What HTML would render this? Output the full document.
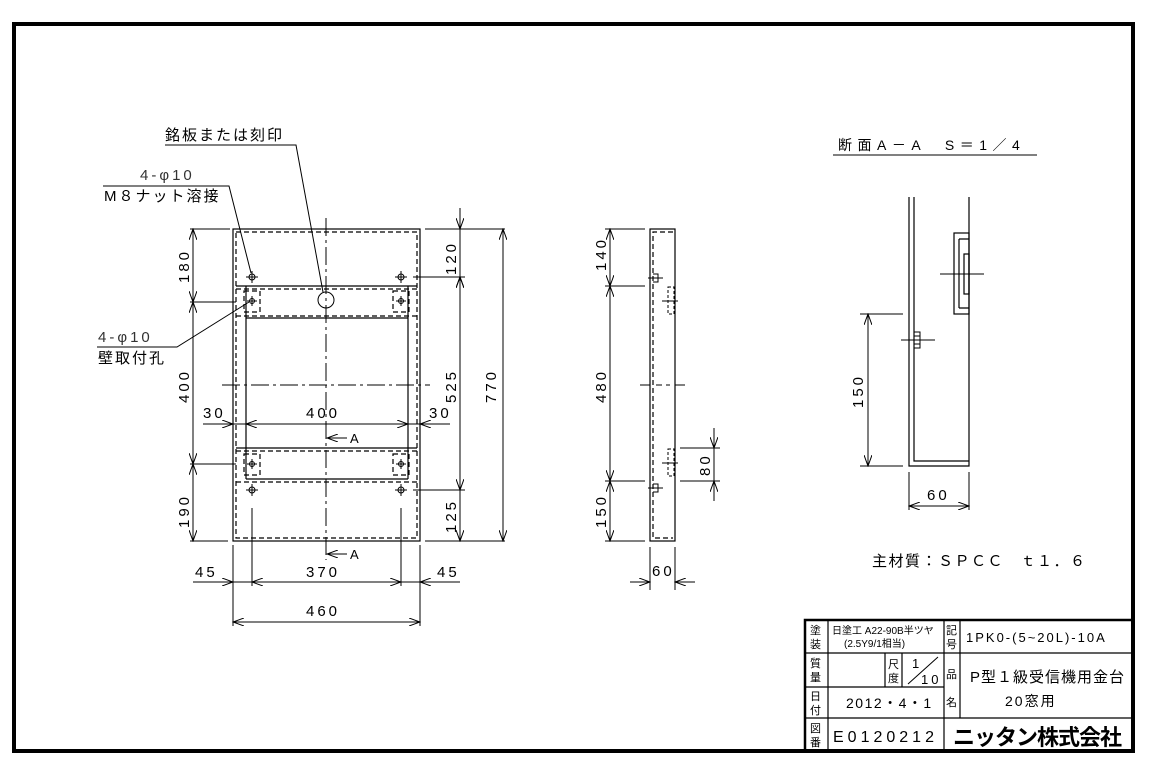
<!DOCTYPE html>
<html><head><meta charset="utf-8"><style>
html,body{margin:0;padding:0;background:#fff;}
svg{display:block;}
text{font-family:"Liberation Sans","Noto Sans CJK JP",sans-serif;fill:#000;}
.d{font-size:15px;letter-spacing:3px;fill:#333;}
.j{font-size:15px;letter-spacing:2px;}
</style></head><body>
<svg width="1151" height="773" viewBox="0 0 1151 773" xmlns="http://www.w3.org/2000/svg">
<defs>
<marker id="a" markerWidth="12" markerHeight="8" refX="11" refY="4" orient="auto" markerUnits="userSpaceOnUse"><path d="M0,0 L11,4 L0,8" fill="none" stroke="#000" stroke-width="1"/></marker>
</defs>
<rect width="1151" height="773" fill="#fff"/>
<rect x="14" y="24" width="1119" height="727" fill="none" stroke="#000" stroke-width="4"/>

<g stroke="#000" stroke-width="1.2" fill="none">
<rect x="233" y="229" width="187" height="312"/>
<g stroke-dasharray="5,3">
<rect x="236" y="232" width="181" height="306"/>
<line x1="236" y1="289" x2="417" y2="289"/>
<line x1="236" y1="316" x2="417" y2="316"/>
<line x1="236" y1="451" x2="417" y2="451"/>
<line x1="236" y1="482" x2="417" y2="482"/>
<rect x="244" y="291" width="16" height="21"/>
<rect x="393" y="291" width="16" height="21"/>
<rect x="244" y="454" width="16" height="21"/>
<rect x="393" y="454" width="16" height="21"/>
</g>
<line x1="236" y1="286" x2="417" y2="286"/>
<line x1="236" y1="448" x2="417" y2="448"/>
<line x1="246" y1="318" x2="408" y2="318"/>
<line x1="246" y1="479" x2="408" y2="479"/>
<line x1="246" y1="286" x2="246" y2="479"/>
<line x1="408" y1="286" x2="408" y2="479"/>
<line x1="326" y1="218" x2="326" y2="560" stroke-dasharray="18,4,3,4" stroke-width="1"/>
<line x1="222" y1="385" x2="430" y2="385" stroke-dasharray="18,4,3,4" stroke-width="1"/>
<g stroke-width="1">
<circle cx="252" cy="277" r="3"/><path d="M246 277h12M252 271v12"/>
<circle cx="401" cy="277" r="3"/><path d="M395 277h12M401 271v12"/>
<circle cx="252" cy="301" r="2.5"/><path d="M247 301h10M252 296v10"/>
<circle cx="401" cy="301" r="2.5"/><path d="M396 301h10M401 296v10"/>
<circle cx="252" cy="464" r="2.5"/><path d="M247 464h10M252 459v10"/>
<circle cx="401" cy="464" r="2.5"/><path d="M396 464h10M401 459v10"/>
<circle cx="252" cy="490" r="3"/><path d="M246 490h12M252 484v12"/>
<circle cx="401" cy="490" r="3"/><path d="M395 490h12M401 484v12"/>
<circle cx="326" cy="300" r="8"/>
</g>
<line x1="347" y1="438" x2="327" y2="438" marker-end="url(#a)" stroke-width="1"/>
<line x1="347" y1="554" x2="327" y2="554" marker-end="url(#a)" stroke-width="1"/>
<g stroke-width="1">
<line x1="190" y1="229" x2="230" y2="229"/>
<line x1="190" y1="302" x2="236" y2="302"/>
<line x1="190" y1="464" x2="236" y2="464"/>
<line x1="190" y1="541" x2="228" y2="541"/>
<line x1="193" y1="265" x2="193" y2="229" marker-end="url(#a)"/>
<line x1="193" y1="265" x2="193" y2="302" marker-end="url(#a)"/>
<line x1="193" y1="385" x2="193" y2="302" marker-end="url(#a)"/>
<line x1="193" y1="385" x2="193" y2="464" marker-end="url(#a)"/>
<line x1="193" y1="500" x2="193" y2="464" marker-end="url(#a)"/>
<line x1="193" y1="500" x2="193" y2="541" marker-end="url(#a)"/>
<line x1="425" y1="229" x2="505" y2="229"/>
<line x1="413" y1="277" x2="465" y2="277"/>
<line x1="413" y1="490" x2="465" y2="490"/>
<line x1="425" y1="541" x2="505" y2="541"/>
<line x1="460" y1="208" x2="460" y2="229" marker-end="url(#a)"/>
<line x1="460" y1="298" x2="460" y2="277" marker-end="url(#a)"/>
<line x1="460" y1="277" x2="460" y2="229"/>
<line x1="460" y1="385" x2="460" y2="277" marker-end="url(#a)"/>
<line x1="460" y1="385" x2="460" y2="490" marker-end="url(#a)"/>
<line x1="460" y1="520" x2="460" y2="541" marker-end="url(#a)"/>
<line x1="460" y1="490" x2="460" y2="520"/>
<line x1="503" y1="385" x2="503" y2="229" marker-end="url(#a)"/>
<line x1="503" y1="385" x2="503" y2="541" marker-end="url(#a)"/>
<line x1="203" y1="424" x2="233" y2="424" marker-end="url(#a)"/>
<line x1="326" y1="424" x2="246" y2="424" marker-end="url(#a)"/>
<line x1="326" y1="424" x2="408" y2="424" marker-end="url(#a)"/>
<line x1="450" y1="424" x2="420" y2="424" marker-end="url(#a)"/>
<line x1="233" y1="424" x2="246" y2="424"/>
<line x1="408" y1="424" x2="420" y2="424"/>
<line x1="233" y1="545" x2="233" y2="626"/>
<line x1="420" y1="545" x2="420" y2="626"/>
<line x1="252" y1="508" x2="252" y2="586"/>
<line x1="401" y1="508" x2="401" y2="586"/>
<line x1="193" y1="582" x2="233" y2="582" marker-end="url(#a)"/>
<line x1="326" y1="582" x2="252" y2="582" marker-end="url(#a)"/>
<line x1="326" y1="582" x2="401" y2="582" marker-end="url(#a)"/>
<line x1="460" y1="582" x2="420" y2="582" marker-end="url(#a)"/>
<line x1="233" y1="582" x2="252" y2="582"/>
<line x1="401" y1="582" x2="420" y2="582"/>
<line x1="326" y1="622" x2="233" y2="622" marker-end="url(#a)"/>
<line x1="326" y1="622" x2="420" y2="622" marker-end="url(#a)"/>
<polyline points="165,145 296,145 323,292"/>
<polyline points="103,186 229,186 251,273"/>
<polyline points="97,347 177,347 249,302"/>
</g>

<rect x="650" y="229" width="25" height="312"/>
<path d="M673 232 H653 V538 H673" stroke-dasharray="5,3"/>
<g stroke-width="1">
<path d="M648 278h15M653 274h5v8h-5"/>
<path d="M648 488h15M653 484h5v8h-5"/>
<rect x="668" y="287" width="6" height="27" stroke-dasharray="3,2"/>
<path d="M662 301h16"/>
<rect x="668" y="449" width="6" height="27" stroke-dasharray="3,2"/>
<path d="M662 463h16"/>
<path d="M640 385h10M656 385h6M666 385h4M675 385h10"/>
<line x1="605" y1="229" x2="645" y2="229"/>
<line x1="605" y1="286" x2="645" y2="286"/>
<line x1="605" y1="481" x2="645" y2="481"/>
<line x1="605" y1="541" x2="645" y2="541"/>
<line x1="610" y1="257" x2="610" y2="229" marker-end="url(#a)"/>
<line x1="610" y1="257" x2="610" y2="286" marker-end="url(#a)"/>
<line x1="610" y1="385" x2="610" y2="286" marker-end="url(#a)"/>
<line x1="610" y1="385" x2="610" y2="481" marker-end="url(#a)"/>
<line x1="610" y1="511" x2="610" y2="481" marker-end="url(#a)"/>
<line x1="610" y1="511" x2="610" y2="541" marker-end="url(#a)"/>
<line x1="680" y1="448" x2="720" y2="448"/>
<line x1="680" y1="481" x2="720" y2="481"/>
<line x1="714" y1="428" x2="714" y2="448" marker-end="url(#a)"/>
<line x1="714" y1="501" x2="714" y2="481" marker-end="url(#a)"/>
<line x1="714" y1="448" x2="714" y2="481"/>
<line x1="650" y1="547" x2="650" y2="590"/>
<line x1="675" y1="547" x2="675" y2="590"/>
<line x1="630" y1="582" x2="650" y2="582" marker-end="url(#a)"/>
<line x1="695" y1="582" x2="675" y2="582" marker-end="url(#a)"/>
</g>

<line x1="833" y1="155" x2="1037" y2="155" stroke-width="1"/>
<path d="M909 197 V466 H969 V197"/>
<path d="M914 197 V461 H969"/>
<rect x="954" y="233" width="15" height="81"/>
<path d="M959 239 h10 M959 308 h10 M959 239 V308"/>
<rect x="964" y="254" width="5" height="40"/>
<line x1="940" y1="274" x2="984" y2="274" stroke-width="1"/>
<path d="M914 332 h6 v16 h-6 M914 336 h6 M914 340 h6 M914 344 h6" stroke-width="1"/>
<line x1="901" y1="340" x2="935" y2="340" stroke-width="1"/>
<g stroke-width="1">
<line x1="860" y1="314" x2="903" y2="314"/>
<line x1="860" y1="466" x2="903" y2="466"/>
<line x1="868" y1="390" x2="868" y2="314" marker-end="url(#a)"/>
<line x1="868" y1="390" x2="868" y2="466" marker-end="url(#a)"/>
<line x1="909" y1="472" x2="909" y2="510"/>
<line x1="969" y1="472" x2="969" y2="510"/>
<line x1="939" y1="506" x2="909" y2="506" marker-end="url(#a)"/>
<line x1="939" y1="506" x2="969" y2="506" marker-end="url(#a)"/>
</g>

<path d="M805 751 V620 H1133" stroke-width="2.5"/>
<g stroke-width="1.2">
<line x1="805" y1="653" x2="1133" y2="653"/>
<line x1="805" y1="687" x2="944" y2="687"/>
<line x1="805" y1="718" x2="1133" y2="718"/>
<line x1="828" y1="620" x2="828" y2="751"/>
<line x1="944" y1="620" x2="944" y2="751"/>
<line x1="960" y1="620" x2="960" y2="718"/>
<line x1="885" y1="653" x2="885" y2="687"/>
<line x1="902" y1="653" x2="902" y2="687"/>
<line x1="908" y1="684" x2="938" y2="657" stroke-width="1"/>
</g>
</g>

<text x="165" y="140" class="j">銘板または刻印</text>
<text x="140" y="180" class="d">4-φ10</text>
<text x="104" y="201" class="j">M８ナット溶接</text>
<text x="98" y="342" class="d">4-φ10</text>
<text x="98" y="363" class="j">壁取付孔</text>
<text x="350" y="443" font-size="13">A</text>
<text x="350" y="559" font-size="13">A</text>
<g class="d">
<text transform="translate(189,283) rotate(-90)">180</text>
<text transform="translate(189,403) rotate(-90)">400</text>
<text transform="translate(189,528) rotate(-90)">190</text>
<text transform="translate(456,275) rotate(-90)">120</text>
<text transform="translate(456,403) rotate(-90)">525</text>
<text transform="translate(456,533) rotate(-90)">125</text>
<text transform="translate(496,403) rotate(-90)">770</text>
<text x="203" y="418">30</text>
<text x="306" y="418">400</text>
<text x="429" y="418">30</text>
<text x="195" y="577">45</text>
<text x="306" y="577">370</text>
<text x="437" y="577">45</text>
<text x="306" y="616">460</text>
<text transform="translate(606,271) rotate(-90)">140</text>
<text transform="translate(606,403) rotate(-90)">480</text>
<text transform="translate(606,528) rotate(-90)">150</text>
<text transform="translate(710,476) rotate(-90)">80</text>
<text x="652" y="576">60</text>
<text transform="translate(863,408) rotate(-90)">150</text>
<text x="927" y="500">60</text>
</g>
<text x="838" y="150" font-size="14" style="letter-spacing:5.5px">断面A－A　S＝1／4</text>
<text x="872" y="566" font-size="15" style="letter-spacing:1.5px">主材質：ＳＰＣＣ　ｔ１．６</text>

<g font-size="11">
<text x="810" y="634">塗</text><text x="810" y="648">装</text>
<text x="810" y="667">質</text><text x="810" y="681">量</text>
<text x="810" y="700">日</text><text x="810" y="714">付</text>
<text x="810" y="732">図</text><text x="810" y="746">番</text>
<text x="946" y="634">記</text><text x="946" y="648">号</text>
<text x="946" y="678">品</text><text x="946" y="706">名</text>
<text x="888" y="668">尺</text><text x="888" y="682">度</text>
<text x="832" y="634" font-size="10">日塗工 A22-90B半ツヤ</text>
<text x="844" y="647" font-size="10">(2.5Y9/1相当)</text>
</g>
<text x="912" y="668" font-size="13">1</text>
<text x="921" y="684" font-size="13" style="letter-spacing:3px">10</text>
<text x="966" y="642" font-size="13" style="letter-spacing:2px">1PK0-(5~20L)-10A</text>
<text x="970" y="682" font-size="15" style="letter-spacing:1px">P型１級受信機用金台</text>
<text x="1005" y="706" font-size="14" style="letter-spacing:2px">20窓用</text>
<text x="846" y="708" font-size="14" style="letter-spacing:1.5px">2012・4・1</text>
<text x="833" y="742" font-size="16" style="letter-spacing:4px">E0120212</text>
<text x="953" y="745" font-size="22" font-weight="bold" style="letter-spacing:-1px">ニッタン株式会社</text>
</svg>
</body></html>
